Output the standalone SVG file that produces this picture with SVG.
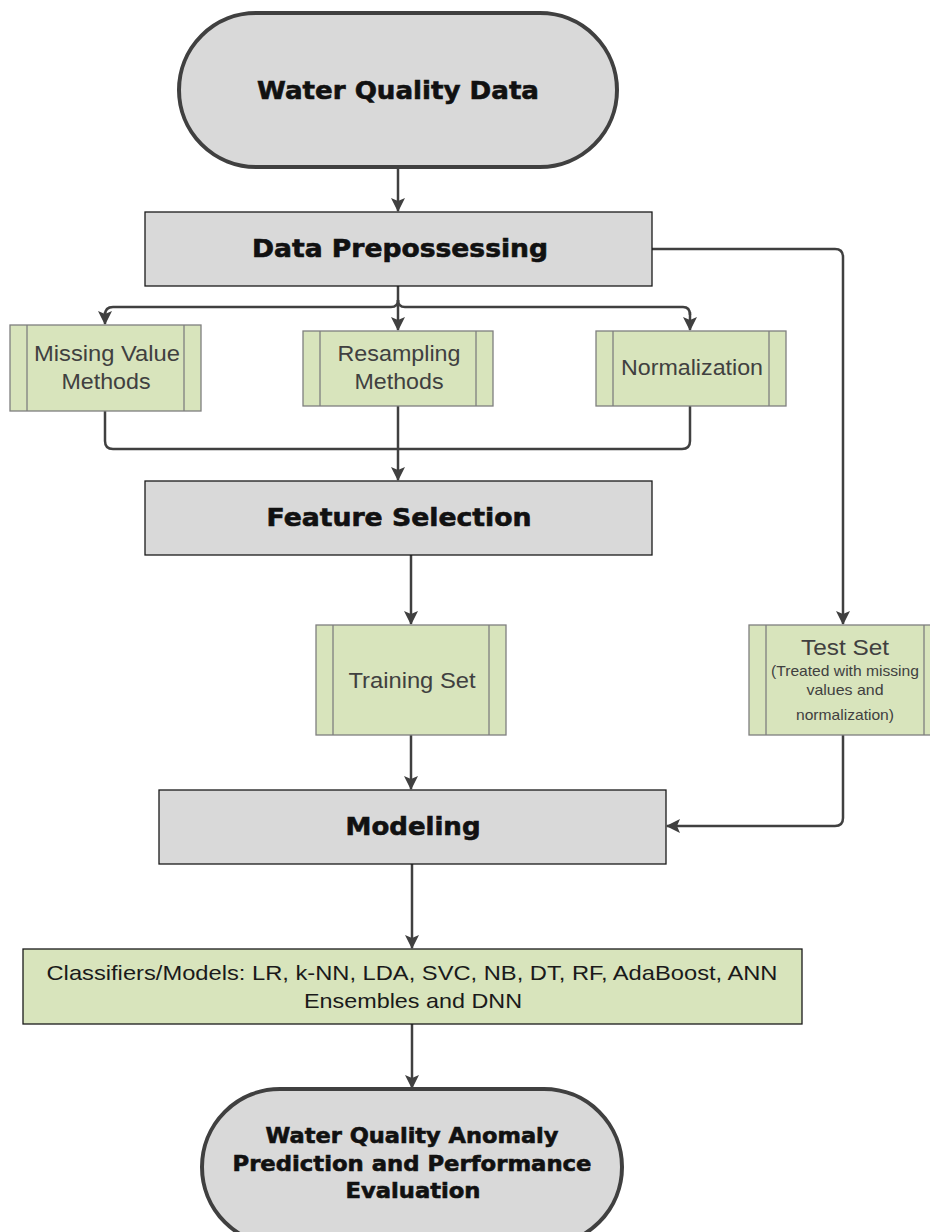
<svg xmlns="http://www.w3.org/2000/svg" width="930" height="1232" viewBox="0 0 930 1232">
<style>
.term{fill:#d9d9d9;stroke:#404040;stroke-width:4}
.proc{fill:#d9d9d9;stroke:#1a1a1a;stroke-width:1.3}
.sub{fill:#d8e4bc;stroke:#7f7f7f;stroke-width:1.3}
.subline{stroke:#7f7f7f;stroke-width:1.3;fill:none}
.cls{fill:#d8e4bc;stroke:#1a1a1a;stroke-width:1.3}
.hd{font-family:"DejaVu Sans",sans-serif;font-weight:bold;fill:#111;stroke:#111;stroke-width:0.6;text-anchor:middle}
.tx{font-family:"Liberation Sans",Arial,sans-serif;fill:#404040;text-anchor:middle}
.txd{font-family:"Liberation Sans",Arial,sans-serif;fill:#1a1a1a;text-anchor:middle}
.conn{fill:none;stroke:#404040;stroke-width:2.5;marker-end:url(#ah)}
.connb{fill:none;stroke:#404040;stroke-width:2.5}
</style>
<defs>
<marker id="ah" markerUnits="userSpaceOnUse" markerWidth="14" markerHeight="14" viewBox="0 0 14 14" refX="13" refY="7" orient="auto">
<path d="M0,0 L14,7 L0,14 L3,7 z" fill="#404040"/>
</marker>
</defs>
<g id="connectors">
<path class="conn" d="M398,167 V211"/>
<path class="conn" d="M652,249 H835 Q843,249 843,257 V624"/>
<path class="connb" d="M398,286 V300 Q398,307 391,307 H113 Q105,307 105,315"/>
<path class="conn" d="M105,312 V324"/>
<path class="conn" d="M398,300 V330"/>
<path class="connb" d="M398,300 Q398,307 405,307 H683 Q690,307 690,315"/>
<path class="conn" d="M690,312 V330"/>
<path class="connb" d="M105,411 V441 Q105,449 113,449 H682 Q690,449 690,441 V406"/>
<path class="conn" d="M398,406 V480"/>
<path class="conn" d="M411,555 V624"/>
<path class="conn" d="M411,735 V789"/>
<path class="conn" d="M843,735 V818 Q843,826 835,826 H667"/>
<path class="conn" d="M412,864 V948"/>
<path class="conn" d="M412,1024 V1088"/>
</g>
<g id="water-quality-data">
<rect class="term" x="179" y="13" width="438" height="154" rx="77"/>
<text class="hd" x="398" y="99" font-size="25" textLength="282" lengthAdjust="spacingAndGlyphs">Water Quality Data</text>
</g>
<g id="data-prepossessing">
<rect class="proc" x="145" y="212" width="507" height="74"/>
<text class="hd" x="400" y="257" font-size="24" textLength="296" lengthAdjust="spacingAndGlyphs">Data Prepossessing</text>
</g>
<g id="missing-value">
<rect class="sub" x="10" y="325" width="191" height="86"/>
<path class="subline" d="M27,325 V411 M184,325 V411"/>
<text class="tx" x="107" y="361" font-size="22" textLength="146" lengthAdjust="spacingAndGlyphs">Missing Value</text>
<text class="tx" x="106" y="389" font-size="22" textLength="89" lengthAdjust="spacingAndGlyphs">Methods</text>
</g>
<g id="resampling">
<rect class="sub" x="303" y="331" width="190" height="75"/>
<path class="subline" d="M320,331 V406 M476,331 V406"/>
<text class="tx" x="399" y="361" font-size="22" textLength="123" lengthAdjust="spacingAndGlyphs">Resampling</text>
<text class="tx" x="399" y="389" font-size="22" textLength="89" lengthAdjust="spacingAndGlyphs">Methods</text>
</g>
<g id="normalization">
<rect class="sub" x="596" y="331" width="190" height="75"/>
<path class="subline" d="M613,331 V406 M769,331 V406"/>
<text class="tx" x="692" y="375" font-size="22" textLength="142" lengthAdjust="spacingAndGlyphs">Normalization</text>
</g>
<g id="feature-selection">
<rect class="proc" x="145" y="481" width="507" height="74"/>
<text class="hd" x="399" y="526" font-size="24" textLength="265" lengthAdjust="spacingAndGlyphs">Feature Selection</text>
</g>
<g id="training-set">
<rect class="sub" x="316" y="625" width="190" height="110"/>
<path class="subline" d="M333,625 V735 M489,625 V735"/>
<text class="tx" x="412" y="688" font-size="22" textLength="127" lengthAdjust="spacingAndGlyphs">Training Set</text>
</g>
<g id="test-set">
<rect class="sub" x="749" y="625" width="192" height="110"/>
<path class="subline" d="M766,625 V735 M924,625 V735"/>
<text class="tx" x="845" y="655" font-size="22" textLength="88" lengthAdjust="spacingAndGlyphs">Test Set</text>
<text class="tx" x="845" y="676" font-size="15" textLength="148" lengthAdjust="spacingAndGlyphs">(Treated with missing</text>
<text class="tx" x="845" y="695" font-size="15" textLength="77" lengthAdjust="spacingAndGlyphs">values and</text>
<text class="tx" x="845" y="720" font-size="15" textLength="98" lengthAdjust="spacingAndGlyphs">normalization)</text>
</g>
<g id="modeling">
<rect class="proc" x="159" y="790" width="507" height="74"/>
<text class="hd" x="413" y="835" font-size="24" textLength="135" lengthAdjust="spacingAndGlyphs">Modeling</text>
</g>
<g id="classifiers">
<rect class="cls" x="23" y="949" width="779" height="75"/>
<text class="txd" x="412" y="980" font-size="21" textLength="731" lengthAdjust="spacingAndGlyphs">Classifiers/Models: LR, k-NN, LDA, SVC, NB, DT, RF, AdaBoost, ANN</text>
<text class="txd" x="413" y="1008" font-size="21" textLength="218" lengthAdjust="spacingAndGlyphs">Ensembles and DNN</text>
</g>
<g id="anomaly-prediction">
<rect class="term" x="202" y="1089" width="420" height="156" rx="78"/>
<text class="hd" x="412" y="1143" font-size="21" textLength="293" lengthAdjust="spacingAndGlyphs">Water Quality Anomaly</text>
<text class="hd" x="412" y="1171" font-size="21" textLength="359" lengthAdjust="spacingAndGlyphs">Prediction and Performance</text>
<text class="hd" x="413" y="1198" font-size="21" textLength="135" lengthAdjust="spacingAndGlyphs">Evaluation</text>
</g>
</svg>
